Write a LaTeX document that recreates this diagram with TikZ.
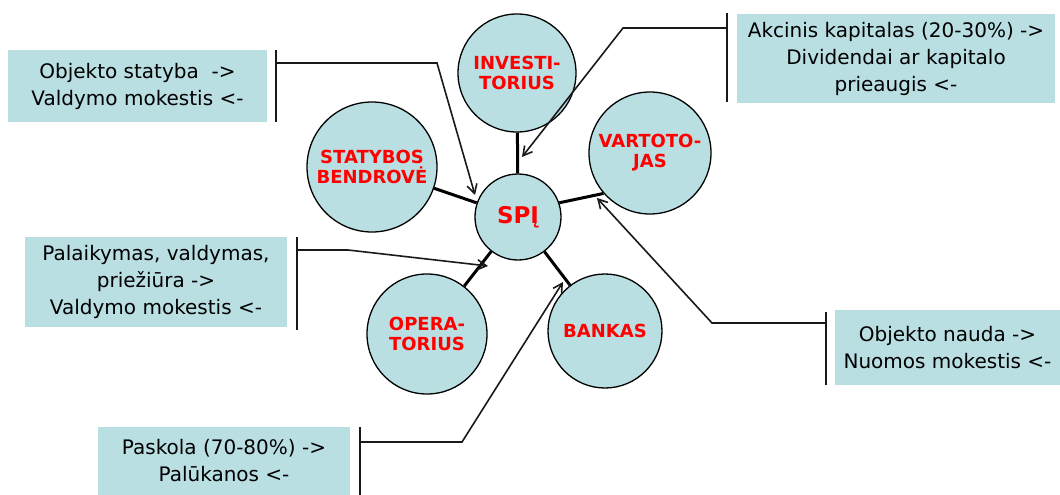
\documentclass[tikz,border=0pt]{standalone}
\usepackage{fontspec}
\setmainfont{DejaVu Sans}
\usetikzlibrary{arrows.meta}
\definecolor{PartyBlue}{HTML}{BADFE3}
\definecolor{PartyRed}{HTML}{FF0000}

\begin{document}
\begin{tikzpicture}[x=1pt,y=-1pt,>={Straight Barb[length=9pt,width=10pt,line width=1.6pt]}]
\tikzstyle{party}=[circle,draw=black,line width=1.3pt,fill=PartyBlue,text=PartyRed,font=\fontsize{18}{20}\selectfont\bfseries,align=center,inner sep=0pt]
\tikzstyle{note}=[fill=PartyBlue,font=\fontsize{20}{27}\selectfont,align=center,inner sep=0pt]
\tikzstyle{link}=[line width=3pt]
\tikzstyle{callout}=[->,line width=1.6pt,draw=black!90]
\tikzstyle{bracket}=[line width=1.6pt,draw=black!90]
\useasboundingbox (0,0) rectangle (1060,495);
\node[party,minimum size=86pt,font=\fontsize{23}{28}\selectfont\bfseries] (spi) at (518,217) {SPĮ};
\node[party,minimum size=118pt] (inv) at (517,73) {INVESTI-\\TORIUS};
\node[party,minimum size=130pt] (stat) at (372,167) {STATYBOS\\BENDROVĖ};
\node[party,minimum size=122pt] (vart) at (650,153) {VARTOTO-\\JAS};
\node[party,minimum size=120pt] (oper) at (427,334) {OPERA-\\TORIUS};
\node[party,minimum size=114pt] (bank) at (605,331) {BANKAS};
\draw[link] (inv) -- (spi);
\draw[link] (stat) -- (spi);
\draw[link] (vart.221) -- (spi.19);
\draw[link] (oper) -- (spi);
\draw[link] (bank) -- (spi);
\node[note,minimum width=259pt,minimum height=72pt] (objekt) at (137.5,86) {Objekto statyba \ ->\\Valdymo mokestis <-};
\node[note,minimum width=318pt,minimum height=89pt] (akcin) at (896,58.5) {Akcinis kapitalas (20-30\%) ->\\Dividendai ar kapitalo\\prieaugis <-};
\node[note,minimum width=262pt,minimum height=90pt] (palaik) at (156,282) {Palaikymas, valdymas,\\priežiūra ->\\Valdymo mokestis <-};
\node[note,minimum width=225pt,minimum height=75pt] (nauda) at (947.5,347.5) {Objekto nauda ->\\Nuomos mokestis <-};
\node[note,minimum width=252pt,minimum height=68pt] (paskol) at (224,461) {Paskola (70-80\%) ->\\Palūkanos <-};
\coordinate (k1) at (276,63);  \coordinate (e1) at (437,63);  \coordinate (t1) at (475,195);
\coordinate (k2) at (727,28);  \coordinate (e2) at (623,28);  \coordinate (t2) at (522,157);
\coordinate (k3) at (297,250); \coordinate (e3) at (348,250); \coordinate (t3) at (488,266);
\coordinate (k4) at (826,323); \coordinate (e4) at (712,323); \coordinate (t4) at (597,198);
\coordinate (k5) at (360,442); \coordinate (e5) at (462,442); \coordinate (t5) at (563,282);
\foreach \x/\ya/\yb in {276/50/122,727/13/102,297/237/330,826/312/385,360/427/495}
  \draw[bracket] (\x,\ya) -- (\x,\yb);
\foreach \i in {1,...,5}
  \draw[callout] (k\i) -- (e\i) -- (t\i);
\end{tikzpicture}
\end{document}
